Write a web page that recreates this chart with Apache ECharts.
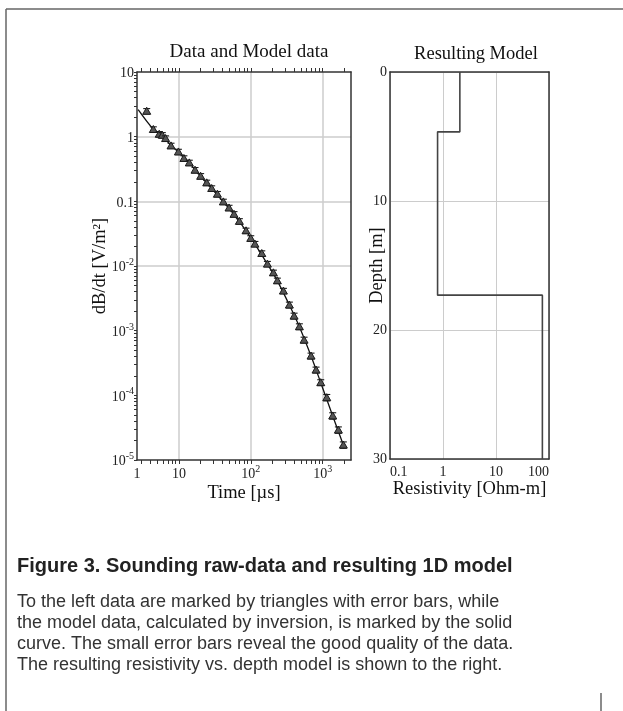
<!DOCTYPE html>
<html>
<head>
<meta charset="utf-8">
<script src="https://cdn.jsdelivr.net/npm/echarts@6/dist/echarts.min.js"></script>
<style>
html,body{margin:0;padding:0;background:#fff;}
#chart{width:623px;height:711px;}
</style>
</head>
<body>
<div id="chart"></div>
<script>
// ---- Left panel: measured data (time in µs, dB/dt in V/m²) ----
const dataTime = [3.55, 4.39, 5.3, 5.85, 6.5, 7.74, 9.8, 11.7, 13.9, 16.7, 20, 24.3, 28.5, 34.2, 41.4, 49.7, 58.3, 69.2, 85.7, 99.7, 114, 142, 170, 206, 234, 284, 344, 400, 474, 551, 689, 809, 940, 1140, 1380, 1655, 1940];
const dataValue = [2.47, 1.29, 1.09, 1.05, 0.935, 0.72, 0.58, 0.46, 0.393, 0.303, 0.244, 0.193, 0.158, 0.129, 0.098, 0.079, 0.063, 0.049, 0.035, 0.0267, 0.0218, 0.0156, 0.0107, 0.00784, 0.0059, 0.0041, 0.00249, 0.00168, 0.00115, 0.000714, 0.000405, 0.000246, 0.000157, 9.2e-5, 4.8e-5, 2.9e-5, 1.7e-5];
const dataErr = [0.10, 0.10, 0.10, 0.10, 0.10, 0.10, 0.10, 0.10, 0.10, 0.10, 0.10, 0.10, 0.10, 0.10, 0.10, 0.10, 0.10, 0.10, 0.10, 0.10, 0.10, 0.10, 0.10, 0.10, 0.10, 0.10, 0.11, 0.11, 0.11, 0.11, 0.11, 0.11, 0.11, 0.12, 0.12, 0.12, 0.12];

// model response curve
const modelTime = [2.7, 4.4, 5.9, 7.7, 9.8, 13.9, 20, 28.5, 41.4, 58.3, 85.7, 114, 170, 234, 344, 474, 689, 940, 1380, 1940];
const modelValue = [2.62, 1.30, 1.03, 0.73, 0.58, 0.393, 0.244, 0.158, 0.098, 0.063, 0.035, 0.0218, 0.0107, 0.0059, 0.00249, 0.00115, 0.000405, 0.000157, 4.8e-5, 1.7e-5];

// axis ranges and labels
const timeMin = 2.6, timeMax = 2480;
const timeLabelValues = [2.61, 10, 100, 1000];
const timeTickLabels = ['1', '10', '10^2', '10^3'];
const timeGrid = [10, 100, 1000];
const timeMinorTicks = [3,4,5,6,7,8,9,10,20,30,40,50,60,70,80,90,100,200,300,400,500,600,700,800,900,1000,2000];

const dbdtMin = 1e-5, dbdtMax = 10;
const dbdtLabelValues = [10, 1, 0.1, 0.01, 0.001, 1e-4, 1e-5];
const dbdtTickLabels = ['10', '1', '0.1', '10^-2', '10^-3', '10^-4', '10^-5'];
const dbdtGrid = [1, 0.1, 0.01, 0.001, 1e-4];
const dbdtMinorTicks = [
  1e-5,2e-5,3e-5,4e-5,5e-5,6e-5,7e-5,8e-5,9e-5,
  1e-4,2e-4,3e-4,4e-4,5e-4,6e-4,7e-4,8e-4,9e-4,
  0.001,0.002,0.003,0.004,0.005,0.006,0.007,0.008,0.009,
  0.01,0.02,0.03,0.04,0.05,0.06,0.07,0.08,0.09,
  0.1,0.2,0.3,0.4,0.5,0.6,0.7,0.8,0.9,
  1,2,3,4,5,6,7,8,9,10];

// ---- Right panel: layered resistivity model ----
const layerResistivity = [2.08, 0.79, 75];
const layerTop = [0, 4.64, 17.3];
const depthMax = 30;
const resMin = 0.1, resMax = 100;

// ---- texts ----
const leftTitle = 'Data and Model data';
const rightTitle = 'Resulting Model';
const captionTitle = 'Figure 3. Sounding raw-data and resulting 1D model';
const captionLines = [
  'To the left data are marked by triangles with error bars, while',
  'the model data, calculated by inversion, is marked by the solid',
  'curve. The small error bars reveal the good quality of the data.',
  'The resulting resistivity vs. depth model is shown to the right.'
];

// ---- build ----
const serif = 'Liberation Serif';
const sans = 'Liberation Sans';
const AX = '#333';
const GRIDC = '#cccccc';

function supLabel(s) {
  const i = s.indexOf('^');
  if (i < 0) return '{b|' + s + '}';
  return '{b|' + s.slice(0, i) + '}{s|' + s.slice(i + 1) + '}';
}
function pickLabel(values, labels, v) {
  for (let i = 0; i < values.length; i++) {
    if (Math.abs(Math.log10(v) - Math.log10(values[i])) < 0.02) return supLabel(labels[i]);
  }
  return '';
}
const richLbl = {
  b: {fontFamily: serif, fontSize: 14, color: '#222', verticalAlign: 'bottom', lineHeight: 17},
  s: {fontFamily: serif, fontSize: 10, color: '#222', verticalAlign: 'bottom', lineHeight: 17, padding: [0, 0, 7, 0]}
};

const points = dataTime.map((t, i) => [t, dataValue[i], dataErr[i]]);
const model = modelTime.map((t, i) => [t, modelValue[i]]);
const steps = [];
layerResistivity.forEach((r, i) => {
  const bottom = i + 1 < layerTop.length ? layerTop[i + 1] : depthMax;
  steps.push([r, layerTop[i]]);
  steps.push([r, bottom]);
});

const chart = echarts.init(document.getElementById('chart'), null, {renderer: 'canvas'});
const borderLine = {show: true, onZero: false, lineStyle: {color: AX, width: 1.5}};
const nameStyle = {fontFamily: serif, fontSize: 18.5, color: '#111'};

const gridMarkLines = [];
timeGrid.forEach(v => gridMarkLines.push({xAxis: v}));
dbdtGrid.forEach(v => gridMarkLines.push({yAxis: v}));

chart.setOption({
  backgroundColor: '#fff',
  animation: false,
  title: [
    {text: leftTitle, left: 244, top: 38, textAlign: 'center',
     textStyle: {fontFamily: serif, fontSize: 19, fontWeight: 'normal', color: '#111'}},
    {text: rightTitle, left: 471, top: 40, textAlign: 'center',
     textStyle: {fontFamily: serif, fontSize: 18.5, fontWeight: 'normal', color: '#111'}}
  ],
  grid: [
    {left: 137, top: 72, width: 214, height: 388, outerBoundsMode: 'none'},
    {left: 390, top: 72, width: 159, height: 387, outerBoundsMode: 'none'}
  ],
  xAxis: [
    {gridIndex: 0, type: 'log', min: timeMin, max: timeMax, position: 'bottom',
     axisLine: borderLine,
     axisTick: {show: true, customValues: timeMinorTicks, length: 4, lineStyle: {color: AX}},
     axisLabel: {customValues: timeLabelValues, margin: 4, rich: richLbl,
       formatter: v => pickLabel(timeLabelValues, timeTickLabels, v)},
     splitLine: {show: false},
     name: 'Time [µs]', nameLocation: 'middle', nameGap: 24, nameMoveOverlap: false,
     nameTextStyle: nameStyle},
    {gridIndex: 0, type: 'log', min: timeMin, max: timeMax, position: 'top',
     axisLine: borderLine,
     axisTick: {show: true, customValues: timeMinorTicks, length: 4, lineStyle: {color: AX}},
     axisLabel: {show: false}, splitLine: {show: false}},
    {gridIndex: 1, type: 'log', min: resMin, max: resMax, position: 'bottom',
     axisLine: borderLine, axisTick: {show: false},
     axisLabel: {fontFamily: serif, fontSize: 14, color: '#222', margin: 6,
       alignMinLabel: 'left', alignMaxLabel: 'right'},
     splitLine: {show: true, lineStyle: {color: GRIDC, width: 1}},
     name: 'Resistivity [Ohm-m]', nameLocation: 'middle', nameGap: 21, nameMoveOverlap: false,
     nameTextStyle: nameStyle},
    {gridIndex: 1, type: 'log', min: resMin, max: resMax, position: 'top',
     axisLine: borderLine, axisTick: {show: false}, axisLabel: {show: false}, splitLine: {show: false}}
  ],
  yAxis: [
    {gridIndex: 0, type: 'log', min: dbdtMin, max: dbdtMax, position: 'left',
     axisLine: borderLine,
     axisTick: {show: true, customValues: dbdtMinorTicks, length: 3, lineStyle: {color: AX}},
     axisLabel: {customValues: dbdtLabelValues, margin: 3, rich: richLbl,
       formatter: v => pickLabel(dbdtLabelValues, dbdtTickLabels, v)},
     splitLine: {show: false},
     name: 'dB/dt [V/m²]', nameLocation: 'middle', nameGap: 27, nameMoveOverlap: false,
     nameTextStyle: nameStyle},
    {gridIndex: 0, type: 'log', min: dbdtMin, max: dbdtMax, position: 'right',
     axisLine: borderLine, axisTick: {show: false}, axisLabel: {show: false}, splitLine: {show: false}},
    {gridIndex: 1, type: 'value', inverse: true, min: 0, max: depthMax, interval: 10, position: 'left',
     axisLine: borderLine, axisTick: {show: false},
     axisLabel: {fontFamily: serif, fontSize: 14, color: '#222', margin: 3},
     splitLine: {show: true, lineStyle: {color: GRIDC, width: 1}},
     name: 'Depth [m]', nameLocation: 'middle', nameGap: 3, nameMoveOverlap: false,
     nameTextStyle: nameStyle},
    {gridIndex: 1, type: 'value', inverse: true, min: 0, max: depthMax, position: 'right',
     axisLine: borderLine, axisTick: {show: false}, axisLabel: {show: false}, splitLine: {show: false}}
  ],
  series: [
    {type: 'line', xAxisIndex: 0, yAxisIndex: 0, data: [], z: 0, silent: true,
     markLine: {silent: true, symbol: 'none', label: {show: false}, z: 0,
       lineStyle: {color: GRIDC, width: 1.5, type: 'solid'}, data: gridMarkLines}},
    {type: 'line', xAxisIndex: 0, yAxisIndex: 0, data: model, smooth: 0.3, showSymbol: false,
     symbol: 'none', lineStyle: {color: '#111', width: 1.3}, z: 3},
    {type: 'custom', xAxisIndex: 0, yAxisIndex: 0, data: points, z: 4,
     encode: {x: 0, y: 1},
     renderItem: function (params, api) {
       const t = api.value(0), v = api.value(1), e = api.value(2);
       const c = api.coord([t, v]);
       const hi = api.coord([t, v * (1 + e)]);
       const lo = api.coord([t, v / (1 + e)]);
       const st = {stroke: '#1a1a1a', lineWidth: 1.1};
       return {type: 'group', children: [
         {type: 'line', shape: {x1: c[0] - 3.5, y1: hi[1], x2: c[0] + 3.5, y2: hi[1]}, style: st},
         {type: 'line', shape: {x1: c[0] - 3.5, y1: lo[1], x2: c[0] + 3.5, y2: lo[1]}, style: st},
         {type: 'line', shape: {x1: c[0], y1: hi[1], x2: c[0], y2: lo[1]}, style: st},
         {type: 'polygon', shape: {points: [[c[0], c[1] - 4], [c[0] - 4, c[1] + 3], [c[0] + 4, c[1] + 3]]},
          style: {fill: '#555', stroke: '#1a1a1a', lineWidth: 1}}
       ]};
     }},
    {type: 'line', xAxisIndex: 2, yAxisIndex: 2, data: steps, showSymbol: false, symbol: 'none',
     lineStyle: {color: '#444', width: 1.6}, z: 3}
  ],
  graphic: [
    {type: 'line', shape: {x1: 6, y1: 9, x2: 623, y2: 9}, style: {stroke: '#666', lineWidth: 1.5}},
    {type: 'line', shape: {x1: 6, y1: 9, x2: 6, y2: 711}, style: {stroke: '#666', lineWidth: 1.5}},
    {type: 'line', shape: {x1: 601, y1: 693, x2: 601, y2: 711}, style: {stroke: '#666', lineWidth: 1.5}},
    {type: 'text', left: 17, top: 556, style: {text: captionTitle, fontFamily: sans, fontSize: 20, fontWeight: 'bold', fill: '#222'}},
    ...captionLines.map((s, i) => ({type: 'text', left: 17, top: 593 + i * 21,
      style: {text: s, fontFamily: sans, fontSize: 18, fill: '#333'}}))
  ]
});
</script>
</body>
</html>
